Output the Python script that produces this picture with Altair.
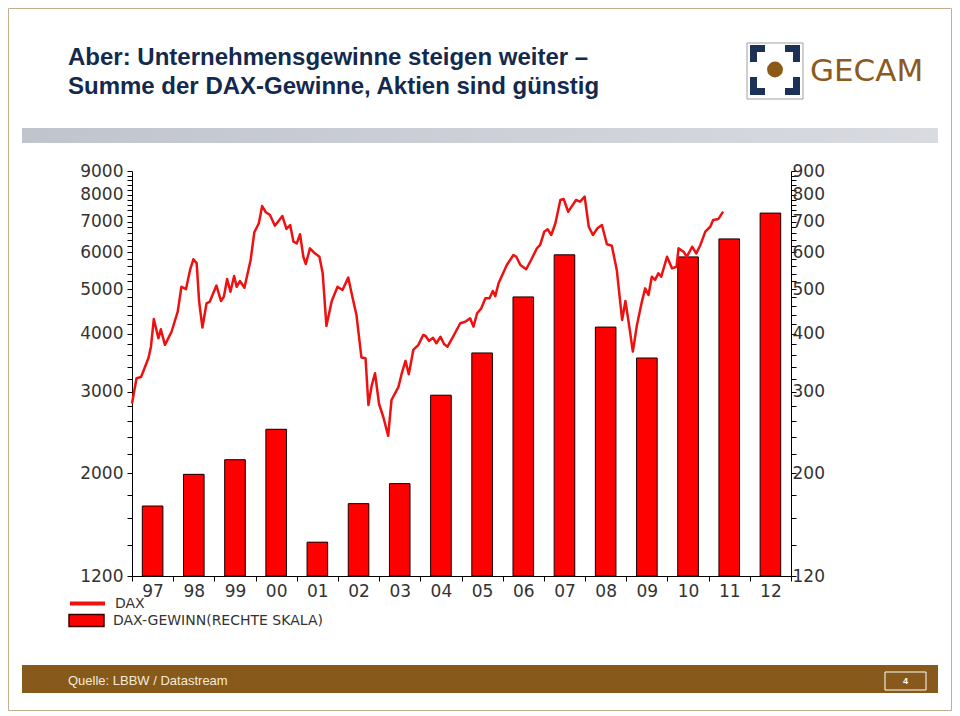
import altair as alt
import pandas as pd

# ---------------- data ----------------
years = list(range(1997, 2013))
dax_gewinn = [170, 199, 214, 249, 142, 172, 190, 295, 364, 481, 593, 414, 355, 587, 642, 730]

dax_time = [
    1997.00, 1997.11, 1997.22, 1997.40, 1997.46, 1997.53, 1997.64, 1997.70, 1997.80, 1997.96,
    1998.11, 1998.20, 1998.31, 1998.41, 1998.49, 1998.57, 1998.63, 1998.71, 1998.81, 1998.89,
    1999.05, 1999.16, 1999.23, 1999.31, 1999.39, 1999.48, 1999.54, 1999.62, 1999.73, 1999.88, 1999.97,
    2000.08, 2000.16, 2000.25, 2000.35, 2000.47, 2000.65, 2000.75, 2000.84, 2000.92,
    2001.00, 2001.08, 2001.16, 2001.22, 2001.32, 2001.44, 2001.55, 2001.63, 2001.72, 2001.85, 2001.99,
    2002.11, 2002.25, 2002.35, 2002.45, 2002.57, 2002.67, 2002.74, 2002.82, 2002.90,
    2003.00, 2003.10, 2003.22, 2003.30, 2003.47, 2003.55, 2003.64, 2003.72, 2003.83, 2003.95,
    2004.07, 2004.13, 2004.21, 2004.31, 2004.39, 2004.49, 2004.58, 2004.66, 2004.78, 2004.97,
    2005.09, 2005.21, 2005.29, 2005.38, 2005.48, 2005.58, 2005.68, 2005.76, 2005.82, 2005.90,
    2006.10, 2006.26, 2006.33, 2006.43, 2006.57, 2006.69, 2006.83, 2006.91,
    2007.01, 2007.09, 2007.18, 2007.28, 2007.40, 2007.48, 2007.59, 2007.71, 2007.78, 2007.88, 2007.99,
    2008.09, 2008.19, 2008.30, 2008.41, 2008.53, 2008.65, 2008.77, 2008.90, 2008.98,
    2009.08, 2009.16, 2009.26, 2009.38, 2009.46, 2009.54, 2009.62, 2009.70, 2009.78, 2009.85, 2009.99,
    2010.11, 2010.22, 2010.27, 2010.39, 2010.47, 2010.60, 2010.70, 2010.80, 2010.92,
    2011.04, 2011.11, 2011.24, 2011.35,
]
dax_value = [
    2830, 3210, 3230, 3550, 3755, 4310, 3915, 4095, 3790, 4045,
    4470, 5060, 5000, 5500, 5800, 5690, 4700, 4130, 4660, 4700,
    5090, 4715, 4815, 5260, 4935, 5340, 5060, 5205, 5035, 5780, 6635,
    6940, 7560, 7330, 7230, 6855, 7195, 6745, 6880, 6330,
    6280, 6570, 5875, 5665, 6125, 5975, 5875, 5410, 4165, 4715, 5060,
    4980, 5295, 4815, 4395, 3560, 3545, 2810, 3095, 3290,
    2820, 2650, 2410, 2880, 3075, 3290, 3500, 3275, 3695, 3785,
    3980, 3960, 3865, 3925, 3820, 3945, 3800, 3755, 3925, 4220,
    4250, 4325, 4150, 4435, 4545, 4780, 4780, 4955, 4830, 5150,
    5640, 5925, 5875, 5640, 5520, 5780, 6125, 6230,
    6655, 6735, 6545, 6940, 7790, 7830, 7350, 7625, 7790, 7725, 7920,
    6820, 6545, 6770, 6880, 6250, 6205, 5500, 4290, 4715,
    4115, 3665, 4185, 4700, 5020, 4855, 5320, 5235, 5410, 5320, 5875,
    5545, 5590, 6125, 6025, 5875, 6175, 5975, 6230, 6655,
    6820, 7055, 7090, 7350,
]

left_major = [1200, 2000, 3000, 4000, 5000, 6000, 7000, 8000, 9000]
right_major = [120, 200, 300, 400, 500, 600, 700, 800, 900]
left_ticks = list(range(1200, 9001, 200))
right_ticks = list(range(120, 901, 20))
year_ticks = list(range(1997, 2014))

title_lines = ["Aber: Unternehmensgewinne steigen weiter \u2013",
               "Summe der DAX-Gewinne, Aktien sind g\u00fcnstig"]
legend_labels = ["DAX", "DAX-GEWINN(RECHTE SKALA)"]
source_text = "Quelle: LBBW / Datastream"
page_number = "4"
logo_text = "GECAM"

# ---------------- layout ----------------
W, H = 659, 405
PAD = {"left": 124, "top": 163, "right": 161, "bottom": 140}
OX, OY = 8 + PAD["left"], 8 + PAD["top"]


def px(x):
    return x - OX


def py(y):
    return y - OY


AXIS_FONT = "DejaVu Sans"
RED = "#ff0000"
LINE_RED = "#ee1111"
TICK_FS = 17

dax_df = pd.DataFrame({"t": dax_time, "v": dax_value, "series": legend_labels[0]})
bar_df = pd.DataFrame({"year": years, "g": dax_gewinn})
bar_df["x0"] = bar_df["year"] + 0.25
bar_df["x1"] = bar_df["year"] + 0.75
bar_df["base"] = right_major[0]
bar_df["series"] = legend_labels[1]

xscale = alt.Scale(domain=[year_ticks[0], year_ticks[-1]], nice=False, zero=False)
x_axis = alt.Axis(
    values=year_ticks,
    labelExpr="datum.value < %d ? substring(toString(datum.value), 2, 4) : ''" % year_ticks[-1],
    labelOffset=W / (len(year_ticks) - 1) / 2,
    tickSize=5, labelPadding=2, labelFont=AXIS_FONT, labelFontSize=TICK_FS,
    labelColor="#333333", domainColor="#000000", tickColor="#000000",
    grid=False, labelFlush=False, labelOverlap=False,
)


def major_expr(vals):
    return "indexof([%s], datum.value) >= 0 ? datum.label : ''" % ",".join(str(v) for v in vals)


left_axis = alt.Axis(
    orient="left", values=left_ticks, labelExpr=major_expr(left_major), format="d",
    tickSize=5, labelPadding=4, labelFont=AXIS_FONT, labelFontSize=TICK_FS,
    labelColor="#333333", domainColor="#000000", tickColor="#000000",
    grid=False, labelOverlap=False,
)
right_axis = alt.Axis(
    orient="right", values=right_ticks, labelExpr=major_expr(right_major), format="d",
    tickSize=5, labelPadding=-4, labelFont=AXIS_FONT, labelFontSize=TICK_FS,
    labelColor="#333333", domainColor="#000000", tickColor="#000000",
    grid=False, labelOverlap=False,
)
yl_scale = alt.Scale(type="log", domain=[left_major[0], left_major[-1]], nice=False)
yr_scale = alt.Scale(type="log", domain=[right_major[0], right_major[-1]], nice=False)

# ---------------- data layers ----------------
shadow = alt.Chart(bar_df).mark_bar(color="#5a2a2a", xOffset=2).encode(
    x=alt.X("x0:Q", scale=xscale, axis=x_axis, title=None),
    x2="x1:Q",
    y=alt.Y("g:Q", scale=yr_scale, axis=right_axis, title=None),
    y2="base:Q",
)
bars = alt.Chart(bar_df).mark_bar(stroke="#1a0000", strokeWidth=1).encode(
    x=alt.X("x0:Q", scale=xscale, axis=x_axis, title=None),
    x2="x1:Q",
    y=alt.Y("g:Q", scale=yr_scale, axis=right_axis, title=None),
    y2="base:Q",
    fill=alt.Fill(
        "series:N",
        scale=alt.Scale(domain=[legend_labels[1]], range=[RED]),
        legend=alt.Legend(
            title=None, orient="none", legendX=px(68), legendY=py(619.5) - 17.5,
            symbolType="M-1,-0.34H1V0.34H-1Z", symbolSize=1225,
            symbolStrokeColor="#3a0000", symbolStrokeWidth=1.5,
            labelFont=AXIS_FONT, labelFontSize=14, labelColor="#333333",
            labelOffset=8, labelLimit=400, padding=0,
        ),
    ),
)
bar_layer = alt.layer(shadow, bars)

line = alt.Chart(dax_df).mark_line(strokeWidth=2.5, strokeJoin="round").encode(
    x=alt.X("t:Q", scale=xscale, axis=x_axis, title=None),
    y=alt.Y("v:Q", scale=yl_scale, axis=left_axis, title=None),
    stroke=alt.Stroke(
        "series:N",
        scale=alt.Scale(domain=[legend_labels[0]], range=[LINE_RED]),
        legend=alt.Legend(
            title=None, orient="none", legendX=px(68), legendY=py(601.5) - 17.5,
            symbolType="M-1,0L1,0", symbolSize=1225, symbolStrokeWidth=4,
            labelFont=AXIS_FONT, labelFontSize=14, labelColor="#333333",
            labelOffset=8, labelLimit=400, padding=0,
        ),
    ),
)

# ---------------- decorations ----------------
one = pd.DataFrame({"k": [0]})


def rect(x1, y1, x2, y2, **mk):
    return alt.Chart(one).mark_rect(**mk).encode(
        x=alt.value(px(x1)), x2=alt.value(px(x2)),
        y=alt.value(py(y1)), y2=alt.value(py(y2)),
    )


def text(x, y, s, **mk):
    return alt.Chart(one).mark_text(**mk).encode(
        x=alt.value(px(x)), y=alt.value(py(y)), text=alt.value(s)
    )


band_grad = alt.Gradient(
    gradient="linear", x1=0, x2=1, y1=0, y2=0,
    stops=[alt.GradientStop(color="#c0c4cd", offset=0),
           alt.GradientStop(color="#d9dbe1", offset=1)],
)
NAVY = "#1b3158"
BROWN = "#87591a"

decor = [
    rect(8.5, 8.5, 951.5, 710.5, fill="#ffffff", fillOpacity=0, stroke="#c2b08c", strokeWidth=1),
    rect(22, 128, 938, 143, color=band_grad),
    rect(22, 665, 938, 693, color=BROWN),
    text(68, 681, source_text, align="left", baseline="middle",
         font="Liberation Sans", fontSize=13, color="#f4ecda"),
    rect(885, 672, 926, 690, fill="#ffffff", fillOpacity=0, stroke="#ffffff", strokeWidth=1),
    text(905.5, 681, page_number, align="center", baseline="middle",
         font="Liberation Sans", fontSize=9, fontWeight="bold", color="#ffffff"),
    # logo
    rect(747, 43, 803, 99, fill="#ffffff", stroke="#a0a0a0", strokeWidth=1),
    rect(750, 45, 765, 52, color=NAVY), rect(750, 45, 757, 62, color=NAVY),
    rect(785, 45, 800, 52, color=NAVY), rect(793, 45, 800, 62, color=NAVY),
    rect(750, 88, 765, 95, color=NAVY), rect(750, 77, 757, 95, color=NAVY),
    rect(785, 88, 800, 95, color=NAVY), rect(793, 77, 800, 95, color=NAVY),
    alt.Chart(one).mark_circle(size=250, color="#8c5a17", opacity=1).encode(
        x=alt.value(px(775)), y=alt.value(py(69.5))),
    text(810, 81, logo_text, align="left", baseline="alphabetic",
         font="DejaVu Sans", fontSize=31, color="#8c5a1c"),
    # title
    text(68, 65, title_lines[0], align="left", baseline="alphabetic",
         font="Liberation Sans", fontWeight="bold", fontSize=24, color="#13294d"),
    text(68, 94, title_lines[1], align="left", baseline="alphabetic",
         font="Liberation Sans", fontWeight="bold", fontSize=24, color="#13294d"),
]

chart = alt.layer(*decor, bar_layer, line).resolve_scale(
    y="independent"
).properties(
    width=W, height=H,
    autosize=alt.AutoSizeParams(type="none"),
    padding=PAD,
    background="#ffffff",
).configure_view(strokeWidth=0)

chart.save("out.html", embed_options={"renderer": "svg", "actions": False})
